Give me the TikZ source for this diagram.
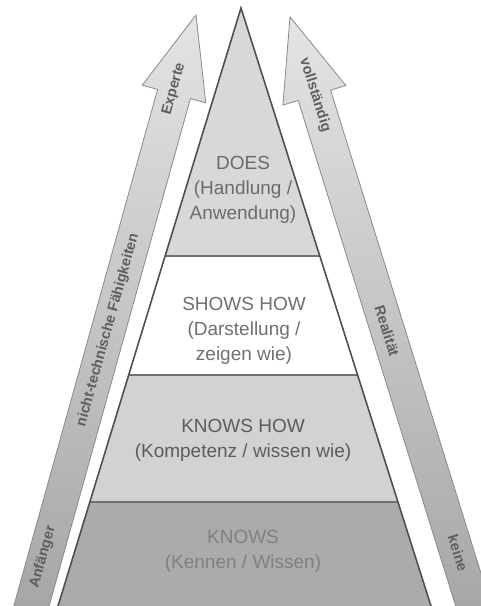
\documentclass[tikz,border=0pt]{standalone}
\usepackage{fontspec}
\setmainfont{Liberation Sans}
\usetikzlibrary{calc}
\definecolor{arrowtop}{HTML}{E4E4E4}
\definecolor{arrowmid}{HTML}{D6D6D6}
\definecolor{arrowbot}{HTML}{A4A4A4}
\definecolor{arrowline}{HTML}{8A8A8A}
\definecolor{doesgray}{HTML}{D8D8D8}
\definecolor{howgray}{HTML}{D2D2D2}
\definecolor{knowsgray}{HTML}{ABABAB}
\definecolor{edgegray}{HTML}{505050}
\definecolor{linegray}{HTML}{707070}
\definecolor{labelgray}{HTML}{5E5E5E}

\begin{document}
\begin{tikzpicture}[x=1pt,y=-1pt,
  layertext/.style={align=center,font=\fontsize{19}{25}\selectfont},
  arrowbody/.style={draw=arrowline,line width=0.8pt,top color=arrowtop,middle color=arrowmid,bottom color=arrowbot},
  arrowlabel/.style={font=\bfseries\fontsize{14.5}{16}\selectfont,text=labelgray,inner sep=0pt}]
\useasboundingbox (0,0) rectangle (481,606);
\begin{scope}
\clip (0,0) rectangle (481,606);
% arrows
\path[arrowbody] (9.7,620.7) -- (157.6,89.4) -- (142.2,85.2) -- (196,15) -- (205.8,102.8) -- (190.4,98.6) -- (42.5,629.9) -- cycle;
\path[arrowbody] (464.7,635.1) -- (298.2,100.4) -- (282.9,105.1) -- (290,17) -- (345.9,85.5) -- (330.6,90.2) -- (497.1,624.9) -- cycle;
% pyramid
\coordinate (apex) at (241,8);
\coordinate (bl) at (58,606);
\coordinate (br) at (431,606);
\coordinate (l1) at ($(apex)!0.415!(bl)$);
\coordinate (r1) at ($(apex)!0.415!(br)$);
\coordinate (l2) at ($(apex)!0.614!(bl)$);
\coordinate (r2) at ($(apex)!0.614!(br)$);
\coordinate (l3) at ($(apex)!0.826!(bl)$);
\coordinate (r3) at ($(apex)!0.826!(br)$);
\fill[doesgray] (apex) -- (l1) -- (r1) -- cycle;
\fill[white] (l1) -- (l2) -- (r2) -- (r1) -- cycle;
\fill[howgray] (l2) -- (l3) -- (r3) -- (r2) -- cycle;
\fill[knowsgray] (l3) -- (bl) -- (br) -- (r3) -- cycle;
\foreach \i in {1,2,3}
  \draw[linegray,line width=2.2pt] (l\i) -- (r\i);
\draw[edgegray,line width=1.6pt,line join=miter] (bl) -- (apex) -- (br);
\end{scope}
% layer texts
\node[layertext,text=black!58] (does) at (243,190) {DOES\\(Handlung /\\Anwendung)};
\node[layertext,text=black!56] (showshow) at (244,331) {SHOWS HOW\\(Darstellung /\\zeigen wie)};
\node[layertext,text=black!64] (knowshow) at (243,440) {KNOWS HOW\\(Kompetenz / wissen wie)};
\node[layertext,text=black!50] (knows) at (243,551) {KNOWS\\(Kennen / Wissen)};
% arrow texts
\node[arrowlabel,rotate=74.5] (experte) at (174,89) {Experte};
\node[arrowlabel,rotate=74.5] (ntf) at (108,330) {nicht-technische Fähigkeiten};
\node[arrowlabel,rotate=74.5] (anfaenger) at (43,557) {Anfänger};
\node[arrowlabel,rotate=-72.7] (vollst) at (315,95) {vollständig};
\node[arrowlabel,rotate=-72.7] (realitaet) at (387,331) {Realität};
\node[arrowlabel,rotate=-72.7] (keine) at (458,553) {keine};
\end{tikzpicture}
\end{document}
